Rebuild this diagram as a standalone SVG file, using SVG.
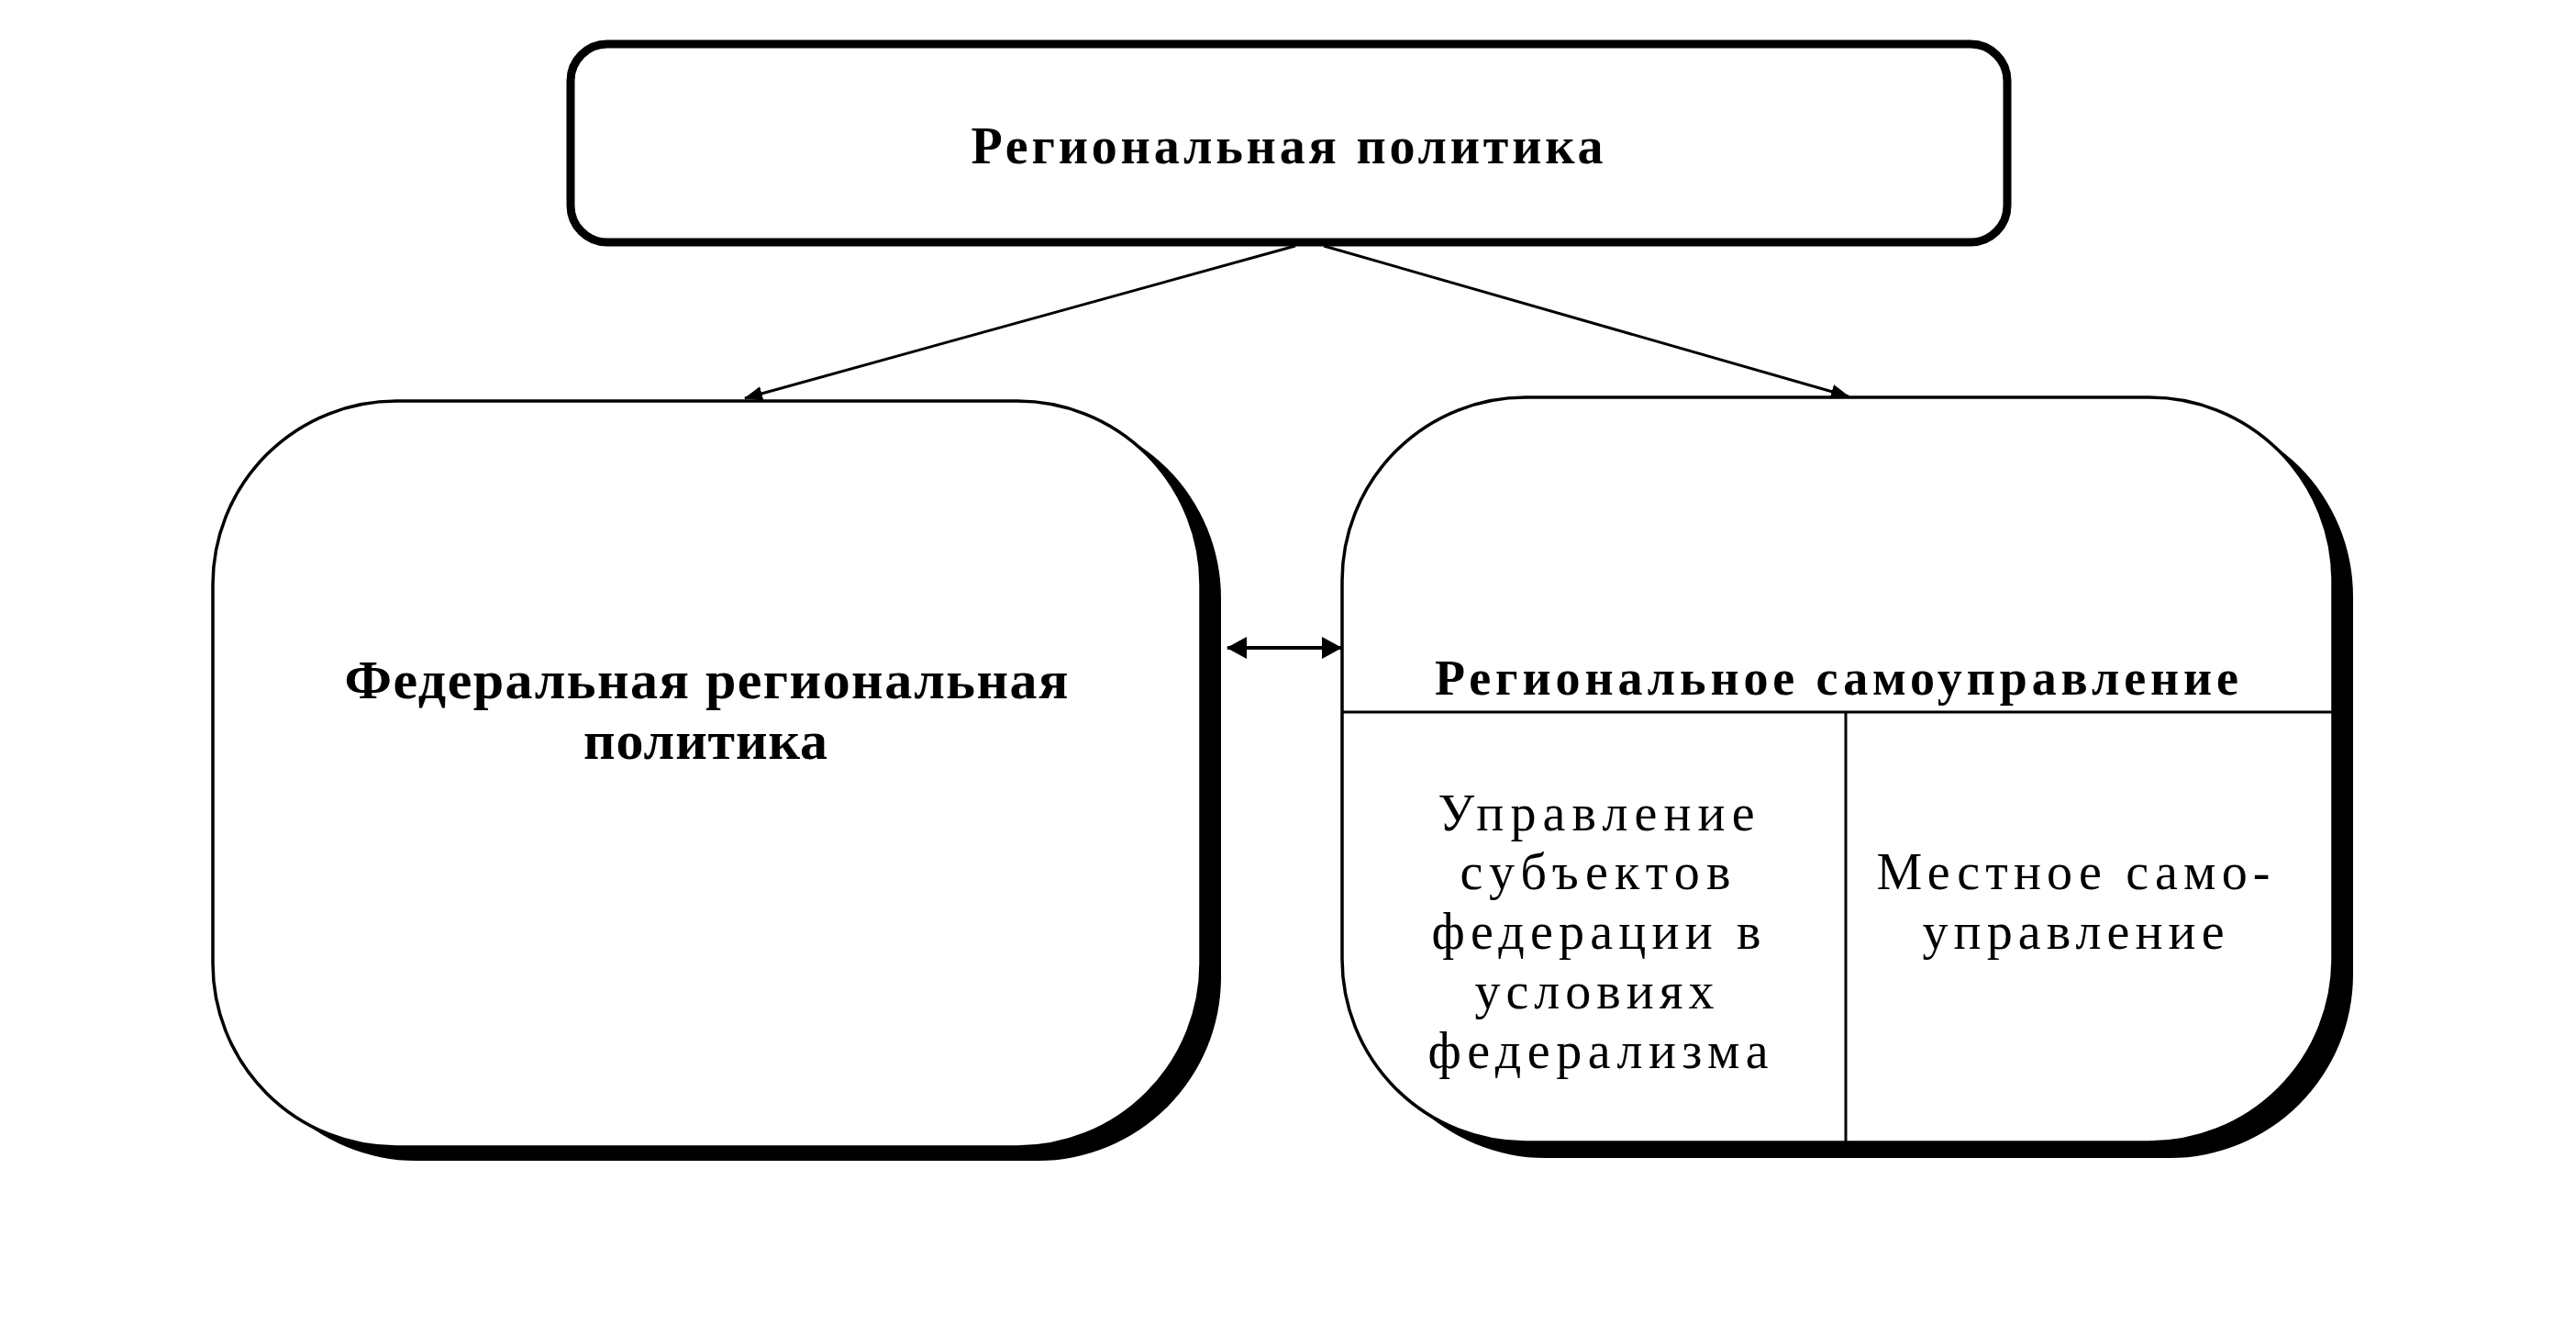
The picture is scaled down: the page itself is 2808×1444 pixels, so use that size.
<svg xmlns="http://www.w3.org/2000/svg" width="2808" height="1444" viewBox="0 0 2808 1444">
<style>
.bg{fill:#fff}
.box{fill:#fff;stroke:#000;stroke-width:3.5}
.topbox{fill:#fff;stroke:#000;stroke-width:9}
.shadow{fill:#000}
.div{stroke:#000;stroke-width:3;fill:none}
.conn{stroke:#000;stroke-width:3;fill:none}
.dbl{stroke:#000;stroke-width:4;fill:none}
.tb{font-family:"Liberation Serif","Times New Roman",serif;font-weight:bold;fill:#000;text-anchor:middle}
.tr{font-family:"Liberation Serif","Times New Roman",serif;font-size:56px;fill:#000;text-anchor:middle}
</style>
<defs>
<marker id="arrS" markerUnits="userSpaceOnUse" markerWidth="20" markerHeight="16" viewBox="0 0 20 16" refX="19" refY="8" orient="auto">
<path d="M0,0 L20,8 L0,16 z" fill="#000"/>
</marker>
<marker id="arrB" markerUnits="userSpaceOnUse" markerWidth="22" markerHeight="24" viewBox="0 0 22 24" refX="21" refY="12" orient="auto-start-reverse">
<path d="M0,0 L22,12 L0,24 z" fill="#000"/>
</marker>
</defs>
<rect class="bg" x="0" y="0" width="2808" height="1444"/>

<g id="node-regional-policy">
<rect class="topbox" x="622" y="48" width="1566" height="216" rx="40" ry="40"/>
<text class="tb" x="1403" y="178" font-size="56" textLength="689">Региональная политика</text>
</g>

<g id="node-federal-regional-policy">
<rect class="shadow" x="254" y="452" width="1077" height="813" rx="200" ry="200"/>
<rect class="box" x="232" y="437" width="1077" height="813" rx="200" ry="200"/>
<text class="tb" x="770" y="761" font-size="60" textLength="789">Федеральная региональная</text>
<text class="tb" x="769" y="827" font-size="60" textLength="266">политика</text>
</g>

<g id="node-regional-self-government">
<rect class="shadow" x="1485" y="450" width="1080" height="812" rx="200" ry="200"/>
<rect class="box" x="1463" y="433" width="1080" height="812" rx="200" ry="200"/>
<line class="div" x1="1463" y1="776" x2="2543" y2="776"/>
<line class="div" x1="2012" y1="776" x2="2012" y2="1245"/>
<text class="tb" x="2002" y="757" font-size="54" textLength="876">Региональное самоуправление</text>
</g>

<g id="node-subjects-governance">
<text class="tr" x="1740" y="905" textLength="345">Управление</text>
<text class="tr" x="1739" y="969" textLength="295">субъектов</text>
<text class="tr" x="1740" y="1034" textLength="359">федерации в</text>
<text class="tr" x="1738" y="1099" textLength="261">условиях</text>
<text class="tr" x="1742" y="1164" textLength="371">федерализма</text>
</g>

<g id="node-local-self-government">
<text class="tr" x="2260" y="969" textLength="429">Местное само-</text>
<text class="tr" x="2260" y="1034" textLength="329">управление</text>
</g>

<g id="connectors">
<line class="conn" x1="1412" y1="268" x2="812" y2="434" marker-end="url(#arrS)"/>
<line class="conn" x1="1443" y1="268" x2="2015" y2="432" marker-end="url(#arrS)"/>
<line class="dbl" x1="1338" y1="706" x2="1462" y2="706" marker-start="url(#arrB)" marker-end="url(#arrB)"/>
</g>
</svg>
